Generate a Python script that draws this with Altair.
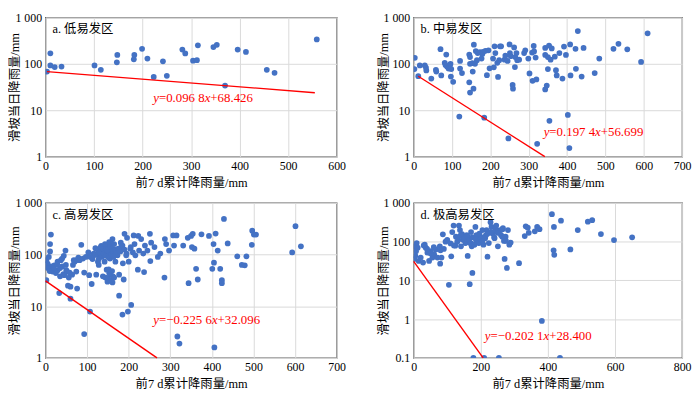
import altair as alt
import pandas as pd

# ---------------- data ----------------
a_x = [3, 10, 10, 19, 33, 101, 114, 147, 148, 182, 183, 199, 210, 223, 242, 250, 282, 288, 304, 312, 314, 346, 353, 370, 396, 413, 456, 472, 559]
a_y = [68, 168, 92, 85, 87, 92, 74, 108, 155, 125, 155, 210, 130, 52, 113, 55, 203, 167, 117, 120, 250, 230, 256, 34, 203, 180, 74, 64, 336]

b_x = [2, 3, 12, 16, 29, 32, 33, 46, 58, 59, 70, 72, 85, 81, 83, 87, 91, 94, 96, 98, 97, 103, 119, 121, 126, 121, 145, 147, 145, 147, 147, 153, 154, 156, 157, 160, 162, 165, 167, 173, 177, 179, 184, 181, 187, 191, 195, 198, 207, 209, 211, 213, 218, 220, 223, 225, 228, 237, 239, 245, 247, 250, 251, 253, 258, 259, 262, 264, 265, 268, 270, 275, 288, 291, 299, 302, 309, 310, 313, 314, 318, 320, 322, 343, 347, 343, 343, 350, 353, 354, 350, 360, 357, 368, 371, 373, 380, 388, 392, 397, 402, 406, 408, 409, 422, 423, 428, 438, 443, 472, 484, 521, 534, 557, 593, 610]
b_y = [77, 135, 54, 92, 92, 83, 72, 48, 74, 68, 207, 56, 158, 105, 94, 87, 79, 90, 100, 77, 53, 41, 7.3, 115, 63, 79, 40, 24, 158, 100, 140, 103, 68, 29, 258, 100, 188, 120, 170, 178, 130, 162, 6.9, 180, 190, 57, 195, 80, 130, 84, 238, 170, 105, 52, 120, 238, 238, 123, 150, 115, 2.46, 262, 170, 146, 35, 29, 225, 85, 140, 170, 120, 123, 170, 195, 130, 62, 175, 43, 242, 185, 136, 46, 1.88, 28, 34, 220, 155, 77, 248, 5.9, 140, 215, 123, 142, 73, 56, 170, 48, 235, 155, 7.9, 1.53, 262, 56, 210, 78, 507, 53, 220, 63, 130, 210, 270, 205, 110, 455]

c_x = [2, 2, 5, 8, 11, 13, 11, 13, 17, 21, 25, 29, 29, 33, 35, 37, 40, 40, 43, 44, 48, 49, 52, 54, 56, 60, 60, 64, 66, 68, 70, 74, 74, 76, 79, 82, 86, 90, 93, 93, 97, 103, 107, 105, 111, 113, 116, 120, 122, 126, 126, 128, 130, 134, 138, 138, 142, 142, 144, 145, 147, 147, 149, 152, 153, 155, 157, 159, 161, 161, 163, 168, 173, 177, 177, 181, 182, 185, 186, 188, 190, 194, 196, 198, 200, 204, 206, 212, 214, 216, 222, 223, 225, 230, 235, 237, 239, 245, 251, 252, 254, 262, 270, 276, 286, 287, 290, 297, 307, 309, 317, 315, 322, 331, 344, 342, 350, 354, 352, 358, 362, 366, 375, 393, 401, 404, 405, 406, 409, 414, 420, 424, 424, 429, 438, 461, 472, 479, 483, 496, 497, 501, 506, 593, 601, 614,
       125, 130, 135, 138, 140, 145, 148, 150, 152, 155, 158, 160, 162, 165, 168, 170, 133, 143, 153, 163, 128, 118, 108, 175, 180, 185, 190, 195, 205, 210, 150, 155, 158, 162, 160, 152, 165, 5, 10, 20, 28, 35, 45, 50, 58]
c_y = [78, 32, 67, 90, 160, 245, 115, 59, 47, 62, 44, 50, 73, 18, 38, 78, 84, 59, 42, 95, 120, 63, 47, 25, 36, 24, 14, 41, 63, 78, 73, 47, 78, 22, 87, 78, 155, 84, 45, 2.9, 90, 110, 7.9, 40, 27, 82, 105, 133, 41, 73, 120, 63, 95, 148, 120, 38, 128, 73, 36, 105, 155, 51, 30, 110, 44, 84, 170, 120, 200, 29, 90, 73, 97, 41, 16, 170, 140, 6.9, 68, 33, 253, 97, 212, 7.9, 73, 130, 10.6, 235, 160, 97, 51, 230, 120, 200, 105, 46, 150, 120, 253, 75, 170, 140, 90, 105, 36, 200, 160, 120, 235, 150, 2.6, 235, 1.9, 150, 28, 212, 230, 253, 140, 130, 53, 33, 247, 230, 53, 160, 70, 1.6, 256, 120, 53, 32, 28, 490, 165, 93, 63, 62, 93, 155, 290, 245, 245, 110, 355, 145,
       100, 110, 90, 130, 105, 95, 120, 140, 88, 150, 100, 130, 115, 160, 125, 108, 140, 160, 175, 92, 82, 98, 90, 130, 115, 150, 125, 105, 140, 110, 35, 42, 32, 38, 48, 52, 36, 55, 48, 55, 65, 55, 40, 50, 45]

d_x = [2, 2, 5, 7, 9, 12, 15, 21, 28, 33, 36, 41, 46, 51, 56, 61, 66, 71, 78, 79, 83, 87, 95, 100, 105, 112, 115, 119, 124, 126, 133, 135, 138, 141, 144, 147, 151, 154, 158, 161, 164, 165, 167, 170, 171, 173, 175, 178, 181, 184, 187, 189, 194, 196, 199, 205, 208, 210, 213, 217, 220, 224, 229, 232, 235, 241, 244, 246, 251, 254, 258, 264, 266, 269, 271, 274, 278, 281, 285, 289, 314, 331, 334, 340, 343, 361, 368, 375, 382, 412, 417, 418, 419, 436, 439, 467, 489, 519, 532, 558, 597, 651,
       130, 140, 150, 155, 160, 165, 170, 175, 180, 185, 195, 200, 205, 215, 220, 230, 240, 245, 250, 260, 265, 270, 275, 120, 110, 90, 80, 60, 50, 40, 30, 20, 10]
d_y = [76, 36, 43, 57, 92, 70, 32, 39, 29, 84, 70, 52, 32, 57, 39, 47, 63, 39, 76, 27, 39, 155, 100, 112, 7.7, 42, 178, 262, 79, 135, 112, 262, 200, 76, 158, 112, 135, 92, 148, 43, 118, 123, 8, 92, 178, 76, 15.6, 0.1, 84, 240, 148, 112, 92, 162, 135, 200, 84, 0.1, 123, 200, 41, 92, 318, 240, 162, 123, 219, 262, 76, 0.1, 200, 135, 225, 105, 36, 135, 21, 200, 84, 95, 28, 140, 250, 230, 170, 186, 240, 210, 0.9, 513, 60, 240, 46, 0.1, 350, 63, 200, 330, 360, 158,
       110, 130, 100, 145, 120, 95, 140, 110, 90, 130, 85, 115, 95, 120, 105, 145, 160, 180, 130, 190, 170, 150, 210, 130, 105, 80, 90, 65, 60, 72, 50, 65, 80]
d_x = d_x[:len(d_y)]

# red fitted lines: end points
a_line_x = [3, 555]
a_line_y = [68, 23.8]
b_line_x = [12, 342]
b_line_y = [54, 1.0]
c_line_x = [0, 268]
c_line_y = [31, 1.0]
d_line_x = [0, 207]
d_line_y = [31, 0.1]

# equation pieces: (text, italic?)
eq_parts = [
    [("y", True), ("=0.096 8", False), ("x", True), ("+68.426", False)],
    [("y", True), ("=0.197 4", False), ("x", True), ("+56.699", False)],
    [("y", True), ("=\u22120.225 6", False), ("x", True), ("+32.096", False)],
    [("y", True), ("=\u22120.202 1", False), ("x", True), ("+28.400", False)],
]
eq_x = [222, 339, 259, 212]
eq_y = [18, 3.4, 5.4, 0.366]

labels = ["a. 低易发区", "b. 中易发区", "c. 高易发区", "d. 极高易发区"]
x_max = [600, 700, 700, 800]
x_step = [100, 100, 100, 200]
y_min = [1, 1, 1, 0.1]

# ---------------- style ----------------
SERIF = "Liberation Serif, Noto Sans CJK SC"
L = 37  # left axis room
EQ_FS = 13
# Times-metric advance widths (em)
ADV = {".": 0.25, " ": 0.25, "=": 0.564, "+": 0.564, "\u2212": 0.564}


def text_width(s, italic):
    w = 0.0
    for ch in s:
        if ch.isdigit():
            w += 0.5
        elif ch in ("x", "y"):
            w += 0.444 if italic else 0.5
        else:
            w += ADV.get(ch, 0.5)
    return w * EQ_FS


def panel(xs, ys, lx, ly, parts, ex, ey, label, xmax, xstep, ymin, w, h):
    n = min(len(xs), len(ys))
    pts = pd.DataFrame({"x": xs[:n], "y": ys[:n]})
    line = pd.DataFrame({"x": lx, "y": ly})
    labdf = pd.DataFrame({"t": [label]})

    xaxis = alt.Axis(values=list(range(0, xmax + 1, xstep)), title="前7 d累计降雨量/mm",
                     grid=True, gridColor="#d9d9d9", gridWidth=1, domain=False, ticks=False,
                     labelPadding=4, titlePadding=5, labelFont=SERIF, labelFontSize=12,
                     labelColor="#000", titleFont=SERIF, titleFontSize=12.5,
                     titleFontWeight="normal", titleColor="#000", labelFlush=False)
    yvals = [v for v in [0.1, 1, 10, 100, 1000] if v >= ymin]
    yaxis = alt.Axis(values=yvals, labelExpr="datum.value >= 1000 ? '1 000' : '' + datum.value",
                     title="滑坡当日降雨量/mm", grid=True, gridColor="#d9d9d9", gridWidth=1,
                     domain=False, ticks=False, labelPadding=4, labelFont=SERIF, labelFontSize=12,
                     labelColor="#000", titleFont=SERIF, titleFontSize=12.5,
                     titleFontWeight="normal", titleColor="#000", titleX=13 - L, labelFlush=False)
    xenc = alt.X("x:Q", scale=alt.Scale(domain=[0, xmax], nice=False), axis=xaxis)
    yenc = alt.Y("y:Q", scale=alt.Scale(type="log", domain=[ymin, 1000], nice=False), axis=yaxis)

    layers = []
    layers.append(alt.Chart(pts).mark_circle(size=34, color="#4472C4", opacity=1, clip=True)
                  .encode(x=xenc, y=yenc))
    layers.append(alt.Chart(line).mark_line(color="#ff0000", strokeWidth=1.4).encode(x=xenc, y=yenc))
    off = 0.0
    for s, it in parts:
        df = pd.DataFrame({"x": [ex], "y": [ey], "t": [s]})
        layers.append(alt.Chart(df).mark_text(align="left", baseline="middle", color="#ff0000",
                                              font=SERIF, fontSize=EQ_FS, dx=off,
                                              fontStyle="italic" if it else "normal")
                      .encode(x=xenc, y=yenc, text="t:N"))
        off += text_width(s, it)
    layers.append(alt.Chart(labdf).mark_text(align="left", baseline="middle", color="#000",
                                             font=SERIF, fontSize=12.5).encode(
        x=alt.value(7), y=alt.value(12), text="t:N"))
    return alt.layer(*layers).properties(width=w, height=h)


pa = panel(a_x, a_y, a_line_x, a_line_y, eq_parts[0], eq_x[0], eq_y[0], labels[0], x_max[0], x_step[0], y_min[0], 295, 141)
pb = panel(b_x, b_y, b_line_x, b_line_y, eq_parts[1], eq_x[1], eq_y[1], labels[1], x_max[1], x_step[1], y_min[1], 272, 141)
pc = panel(c_x, c_y, c_line_x, c_line_y, eq_parts[2], eq_x[2], eq_y[2], labels[2], x_max[2], x_step[2], y_min[2], 295, 157)
pdd = panel(d_x, d_y, d_line_x, d_line_y, eq_parts[3], eq_x[3], eq_y[3], labels[3], x_max[3], x_step[3], y_min[3], 272, 157)

chart = alt.concat(pa, pb, pc, pdd, columns=2, spacing={"row": 6, "column": 30}).properties(
    padding=0, background="white"
).configure_view(stroke="#595959", strokeWidth=1.3)

chart.save("out.html", embed_options={"renderer": "svg", "actions": False})
